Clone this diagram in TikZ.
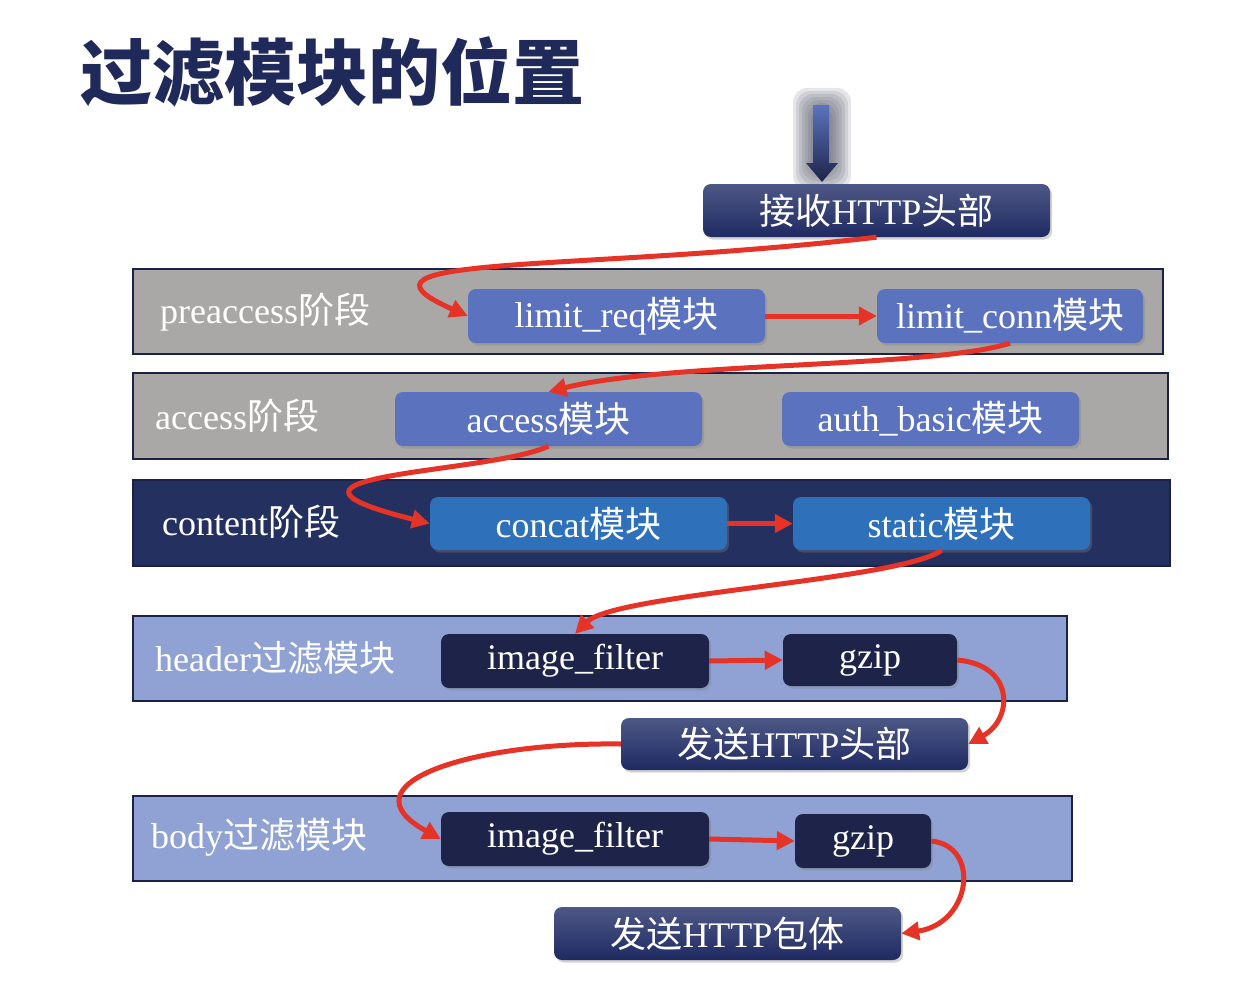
\documentclass[tikz,border=0pt]{standalone}
\usepackage{fontspec}
\setmainfont{Liberation Serif}
\newfontfamily\cjk{Noto Sans CJK SC}
\usetikzlibrary{arrows.meta,shadows}
\definecolor{bandgray}{HTML}{AAA8A6}
\definecolor{bandline}{HTML}{1B2147}
\definecolor{modblue}{HTML}{5B73BF}
\definecolor{contentnavy}{HTML}{243060}
\definecolor{concatblue}{HTML}{2E70B9}
\definecolor{lightband}{HTML}{8FA2D3}
\definecolor{darkmod}{HTML}{1E2449}
\definecolor{boxtop}{HTML}{4E5886}
\definecolor{boxbot}{HTML}{1F2A62}
\definecolor{flowred}{HTML}{E53327}
\definecolor{titleblue}{HTML}{1F2A5A}

\begin{document}
\begin{tikzpicture}[x=1pt,y=-1pt]
        \tikzstyle{every node}=[text=white, inner sep=0pt, font=\fontsize{36}{43}\selectfont]
        \tikzstyle{band}=[rectangle, draw=bandline, line width=2pt]
        \tikzstyle{phase}=[anchor=west]
        \tikzstyle{module}=[rectangle, rounded corners=8pt, drop shadow={shadow xshift=2pt, shadow yshift=-2.5pt, opacity=0.35}]
        \tikzstyle{httpbox}=[module, top color=boxtop, bottom color=boxbot]
        \tikzstyle{flow}=[flowred, line width=5pt, -{Triangle[length=18pt,width=18pt]}]

        \useasboundingbox (0,0) rectangle (1240,982);
        \node[anchor=west, text=titleblue, font=\fontsize{72}{82}\selectfont\cjk\bfseries] (title) at (80,72) {过滤模块的位置};

        \foreach \g in {0,3,...,18}
            \fill[bandline!50!gray, opacity=0.14, rounded corners=14pt] (793+\g,88+\g) rectangle (851-\g,190-\g);
        \coordinate (in) at (822,182);
        \shade[top color=modblue, bottom color=darkmod] (813,105) -- (829,105) -- (829,163) -- (838,163) -- (in) -- (806,163) -- (813,163) -- cycle;

        \node[httpbox, minimum width=347pt, minimum height=53pt] (recv) at (876.5,210.5) {{\cjk 接收}HTTP{\cjk 头部}};

        \node[band, fill=bandgray, minimum width=1030pt, minimum height=85pt] (pre) at (648,311.5) {};
        \node[phase] (prelabel) at (160,312) {preaccess{\cjk 阶段}};
        \node[module, fill=modblue, minimum width=297pt, minimum height=54pt] (lreq) at (616.5,316) {limit\_req{\cjk 模块}};
        \node[module, fill=modblue, minimum width=266pt, minimum height=54pt] (lconn) at (1010,316) {limit\_conn{\cjk 模块}};

        \node[band, fill=bandgray, minimum width=1035pt, minimum height=86pt] (access) at (650.5,416) {};
        \node[phase] (accesslabel) at (155,416) {access{\cjk 阶段}};
        \node[module, fill=modblue, minimum width=307pt, minimum height=54pt] (acc) at (548.5,419) {access{\cjk 模块}};
        \node[module, fill=modblue, minimum width=297pt, minimum height=54pt] (auth) at (930.5,419) {auth\_basic{\cjk 模块}};

        \node[band, fill=contentnavy, minimum width=1037pt, minimum height=86pt] (content) at (651.5,523) {};
        \node[phase] (contentlabel) at (162,522) {content{\cjk 阶段}};
        \node[module, fill=concatblue, minimum width=297pt, minimum height=53pt] (concat) at (578.5,523.5) {concat{\cjk 模块}};
        \node[module, fill=concatblue, minimum width=297pt, minimum height=53pt] (static) at (941.5,523.5) {static{\cjk 模块}};

        \node[band, fill=lightband, minimum width=934pt, minimum height=85pt] (header) at (600,658.5) {};
        \node[phase] (headerlabel) at (155,658) {header{\cjk 过滤模块}};
        \node[module, fill=darkmod, minimum width=268pt, minimum height=54pt] (ifa) at (575,661) {image\_filter};
        \node[module, fill=darkmod, minimum width=174pt, minimum height=52pt] (gza) at (870,660) {gzip};

        \node[httpbox, minimum width=347pt, minimum height=52pt] (sendhead) at (794.5,744) {{\cjk 发送}HTTP{\cjk 头部}};

        \node[band, fill=lightband, minimum width=939pt, minimum height=85pt] (body) at (602.5,838.5) {};
        \node[phase] (bodylabel) at (151,837) {body{\cjk 过滤模块}};
        \node[module, fill=darkmod, minimum width=268pt, minimum height=54pt] (ifb) at (575,839) {image\_filter};
        \node[module, fill=darkmod, minimum width=136pt, minimum height=54pt] (gzb) at (863,841) {gzip};

        \node[httpbox, minimum width=347pt, minimum height=53pt] (sendbody) at (727.5,933.5) {{\cjk 发送}HTTP{\cjk 包体}};

        \draw[flow] (recv.south) .. controls +(-300,35) and +(-140,-62) .. (lreq.west);
        \draw[flow] (lreq.east) -- (lconn.west);
        \draw[flow] (lconn.south) .. controls +(-80,25) and +(120,-30) .. (acc.north);
        \draw[flow] (acc.south) .. controls +(-60,28) and +(-200,-50) .. (concat.west);
        \draw[flow] (concat.east) -- (static.west);
        \draw[flow] (static.south) .. controls +(-40,30) and +(40,-40) .. (ifa.north);
        \draw[flow] (ifa.east) -- (gza.west);
        \draw[flow] (gza.east) .. controls +(58,5) and +(45,-25) .. (sendhead.east);
        \draw[flow] (sendhead.west) .. controls +(-150,-2) and +(-100,-55) .. (ifb.west);
        \draw[flow] (ifb.east) -- (gzb.west);
        \draw[flow] (gzb.east) .. controls +(50,5) and +(70,-10) .. (sendbody.east);
\end{tikzpicture}
\end{document}
